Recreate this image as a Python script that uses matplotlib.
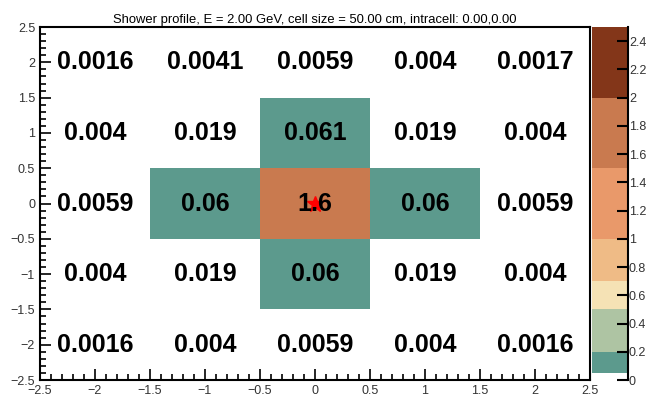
import numpy as np
import matplotlib
matplotlib.use("Agg")
import matplotlib.pyplot as plt
from matplotlib.colors import ListedColormap, BoundaryNorm
from matplotlib.ticker import MultipleLocator, FuncFormatter

plt.rcParams['font.family'] = ['Liberation Sans', 'DejaVu Sans']
plt.rcParams['axes.unicode_minus'] = True

x_edges = [-2.5, -1.5, -0.5, 0.5, 1.5, 2.5]
y_edges = [-2.5, -1.5, -0.5, 0.5, 1.5, 2.5]
# rows from y=-2 (bottom) to y=2 (top), columns x=-2..2
values = np.array([
    [0.0016, 0.004, 0.0059, 0.004, 0.0016],
    [0.004, 0.019, 0.06, 0.019, 0.004],
    [0.0059, 0.06, 1.6, 0.06, 0.0059],
    [0.004, 0.019, 0.061, 0.019, 0.004],
    [0.0016, 0.0041, 0.0059, 0.004, 0.0017],
])
levels = [0, 0.05, 0.2, 0.5, 0.7, 1.0, 1.5, 2.0, 2.5]
level_colors = ['#ffffff', '#5c9a8d', '#aec4a3', '#f5e2b5', '#efbb86',
                '#e9996a', '#c97a4f', '#833619']
impact_x = [0.0]
impact_y = [0.0]
title = "Shower profile, E = 2.00 GeV, cell size = 50.00 cm, intracell: 0.00,0.00"

cmap = ListedColormap(level_colors)
norm = BoundaryNorm(levels, cmap.N)

fig = plt.figure(figsize=(6.49, 3.97), dpi=100)
ax = fig.add_axes([0.0616, 0.0428, 0.8474, 0.889])
cax = fig.add_axes([0.912, 0.0428, 0.055, 0.889])

mesh = ax.pcolormesh(x_edges, y_edges, values, cmap=cmap, norm=norm)
xc = 0.5 * (np.array(x_edges[:-1]) + np.array(x_edges[1:]))
yc = 0.5 * (np.array(y_edges[:-1]) + np.array(y_edges[1:]))
for i, yv in enumerate(yc):
    for j, xv in enumerate(xc):
        ax.text(xv, yv, '{:.2g}'.format(values[i, j]), ha='center', va='center',
                fontsize=18, fontweight='bold', color='black')
ax.plot(impact_x, impact_y, marker='*', color='red', markersize=12, linestyle='none')

fmt = FuncFormatter(lambda v, p: ('{:g}'.format(round(v, 6))).replace('-', '\u2212'))
ax.set_xlim(-2.5, 2.5)
ax.set_ylim(-2.5, 2.5)
ax.xaxis.set_major_locator(MultipleLocator(0.5))
ax.xaxis.set_minor_locator(MultipleLocator(0.1))
ax.yaxis.set_major_locator(MultipleLocator(0.5))
ax.yaxis.set_minor_locator(MultipleLocator(0.1))
ax.xaxis.set_major_formatter(fmt)
ax.yaxis.set_major_formatter(fmt)
ax.tick_params(which='both', direction='in', top=False, right=False,
               labelsize=9, labelcolor='#333333', width=1.2)
ax.tick_params(which='major', length=8)
ax.tick_params(which='minor', length=4)
for s in ax.spines.values():
    s.set_linewidth(1.5)
ax.set_title(title, fontsize=9.4, pad=3)

cticks = [0, 0.2, 0.4, 0.6, 0.8, 1.0, 1.2, 1.4, 1.6, 1.8, 2.0, 2.2, 2.4]
cb = fig.colorbar(mesh, cax=cax, ticks=cticks, spacing='proportional')
cb.set_ticklabels(['{:g}'.format(t) for t in cticks])
cb.outline.set_visible(False)
cax.spines['right'].set_visible(True)
cax.spines['right'].set_linewidth(1.5)
cax.tick_params(direction='in', length=8, width=1.5, labelsize=9,
                labelcolor='#333333', pad=1)
cax.minorticks_off()

fig.savefig('out.png', dpi=100)
